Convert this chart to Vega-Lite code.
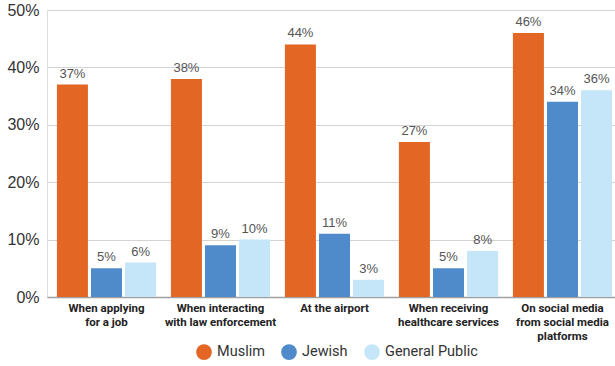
{
  "$schema": "https://vega.github.io/schema/vega-lite/v6.json",
  "width": 575,
  "height": 287,
  "autosize": "none",
  "padding": {"left": 47, "top": 10, "right": 0, "bottom": 69},
  "background": "white",
  "data": {
    "values": [
      {"category": "When applying|for a job", "group": "Muslim", "value": 0.37},
      {"category": "When applying|for a job", "group": "Jewish", "value": 0.05},
      {"category": "When applying|for a job", "group": "General Public", "value": 0.06},
      {"category": "When interacting|with law enforcement", "group": "Muslim", "value": 0.38},
      {"category": "When interacting|with law enforcement", "group": "Jewish", "value": 0.09},
      {"category": "When interacting|with law enforcement", "group": "General Public", "value": 0.10},
      {"category": "At the airport", "group": "Muslim", "value": 0.44},
      {"category": "At the airport", "group": "Jewish", "value": 0.11},
      {"category": "At the airport", "group": "General Public", "value": 0.03},
      {"category": "When receiving|healthcare services", "group": "Muslim", "value": 0.27},
      {"category": "When receiving|healthcare services", "group": "Jewish", "value": 0.05},
      {"category": "When receiving|healthcare services", "group": "General Public", "value": 0.08},
      {"category": "On social media|from social media|platforms", "group": "Muslim", "value": 0.46},
      {"category": "On social media|from social media|platforms", "group": "Jewish", "value": 0.34},
      {"category": "On social media|from social media|platforms", "group": "General Public", "value": 0.36}
    ]
  },
  "encoding": {
    "x": {
      "field": "category",
      "type": "nominal",
      "sort": null,
      "scale": {"paddingInner": 0.13, "paddingOuter": 0.087},
      "axis": {
        "title": null,
        "labelAngle": 0,
        "labelExpr": "split(datum.label, '|')",
        "labelFont": "Roboto",
        "labelFontWeight": "bold",
        "labelFontSize": 11.5,
        "labelLineHeight": 14,
        "labelColor": "#222222",
        "labelPadding": 5,
        "ticks": false,
        "domainColor": "#a0a0a0",
        "domainWidth": 1.5,
        "grid": false
      }
    },
    "xOffset": {
      "field": "group",
      "type": "nominal",
      "sort": ["Muslim", "Jewish", "General Public"],
      "scale": {"paddingInner": 0.09}
    },
    "y": {
      "field": "value",
      "type": "quantitative",
      "scale": {"domain": [0, 0.5], "nice": false},
      "axis": {
        "title": null,
        "format": ".0%",
        "values": [0, 0.1, 0.2, 0.3, 0.4, 0.5],
        "labelFont": "Liberation Sans, Arial, sans-serif",
        "labelFontSize": 16,
        "labelColor": "#333333",
        "labelPadding": 8,
        "ticks": false,
        "domain": false,
        "gridColor": "#d4d4d4",
        "gridWidth": 1
      }
    }
  },
  "layer": [
    {
      "mark": {"type": "bar"},
      "encoding": {
        "color": {
          "field": "group",
          "type": "nominal",
          "sort": ["Muslim", "Jewish", "General Public"],
          "scale": {
            "domain": ["Muslim", "Jewish", "General Public"],
            "range": ["#E46625", "#4F8BCA", "#C4E6F8"]
          },
          "legend": {
            "title": null,
            "orient": "none",
            "direction": "horizontal",
            "legendX": 149,
            "legendY": 334,
            "symbolType": "circle",
            "symbolSize": 250,
            "symbolStrokeWidth": 0,
            "labelFont": "Roboto",
            "labelFontSize": 14.5,
            "labelColor": "#333333",
            "labelOffset": 5,
            "columnPadding": 16
          }
        }
      }
    },
    {
      "mark": {"type": "text", "baseline": "bottom", "dy": -4, "font": "Liberation Sans, Arial, sans-serif", "fontSize": 13, "color": "#555555"},
      "encoding": {
        "text": {"field": "value", "type": "quantitative", "format": ".0%"}
      }
    }
  ]
}
